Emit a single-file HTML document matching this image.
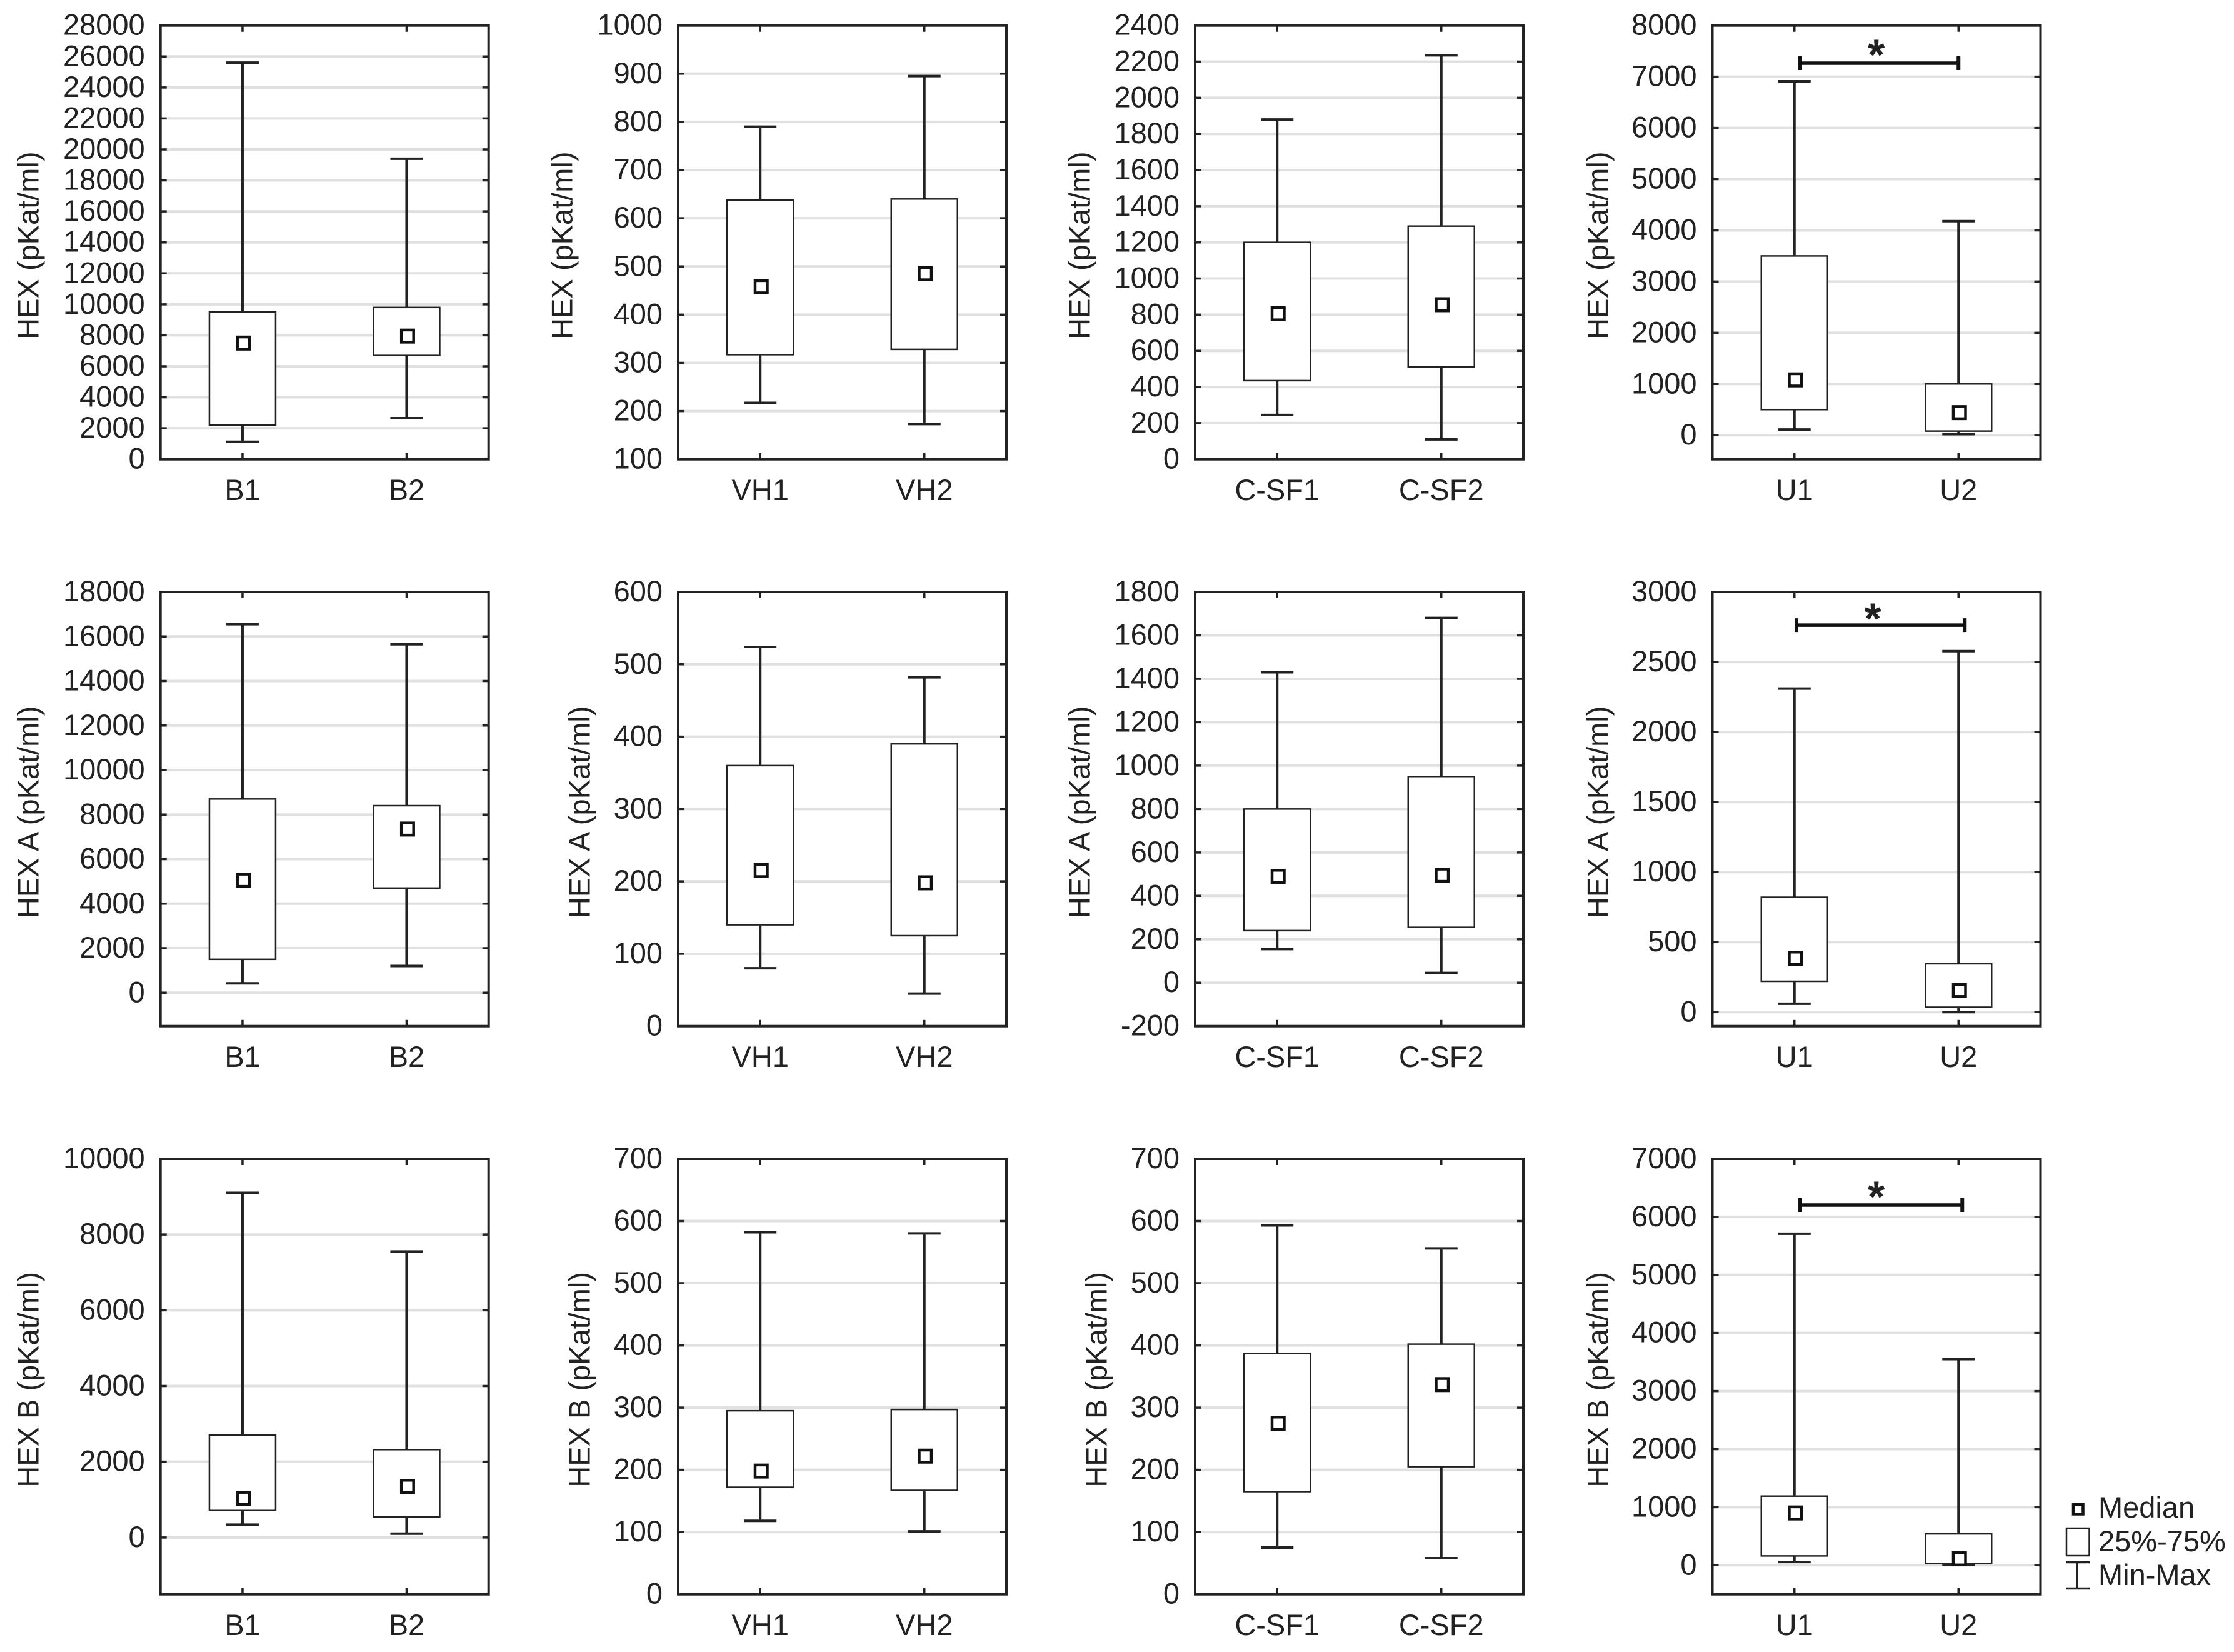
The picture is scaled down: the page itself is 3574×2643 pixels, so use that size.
<!DOCTYPE html>
<html lang="en">
<head>
<meta charset="utf-8">
<title>HEX, HEX A and HEX B box plots</title>
<style>
html,body{margin:0;padding:0;background:#fff;}
#figure{display:block;width:3574px;height:2643px;font-family:"Liberation Sans",Arial,sans-serif;}
text{fill:#222;font-size:47px;}
</style>
</head>
<body>
<svg id="figure" xmlns="http://www.w3.org/2000/svg" width="3574" height="2643" viewBox="0 0 3574 2643"></svg>
<script>
const categories = [['B1','B2'],['VH1','VH2'],['C-SF1','C-SF2'],['U1','U2']];
const yTitles = ['HEX (pKat/ml)','HEX A (pKat/ml)','HEX B (pKat/ml)'];
// panels in reading order: row 1 (4), row 2 (4), row 3 (4)
const axisMin = [0,100,0,-470, -1500,0,-200,-100, -1500,0,0,-500];
const axisMax = [28000,1000,2400,8000, 18000,600,1800,3000, 10000,700,700,7000];
const tickValues = [
  [0,2000,4000,6000,8000,10000,12000,14000,16000,18000,20000,22000,24000,26000,28000],
  [100,200,300,400,500,600,700,800,900,1000],
  [0,200,400,600,800,1000,1200,1400,1600,1800,2000,2200,2400],
  [0,1000,2000,3000,4000,5000,6000,7000,8000],
  [0,2000,4000,6000,8000,10000,12000,14000,16000,18000],
  [0,100,200,300,400,500,600],
  [-200,0,200,400,600,800,1000,1200,1400,1600,1800],
  [0,500,1000,1500,2000,2500,3000],
  [0,2000,4000,6000,8000,10000],
  [0,100,200,300,400,500,600,700],
  [0,100,200,300,400,500,600,700],
  [0,1000,2000,3000,4000,5000,6000,7000]
];
const maxValues = [[25600,19400],[790,895],[1880,2235],[6910,4180],[16550,15650],[524,482],[1430,1680],[2310,2577],[9100,7550],[582,580],[593,556],[5710,3550]];
const q3Values = [[9500,9800],[638,640],[1200,1290],[3500,1000],[8700,8400],[360,390],[800,950],[820,345],[2700,2320],[295,297],[387,402],[1190,540]];
const medianValues = [[7500,7950],[458,485],[805,855],[1080,440],[5050,7350],[215,198],[490,495],[385,155],[1030,1350],[198,222],[275,337],[900,110]];
const q1Values = [[2200,6700],[317,328],[435,510],[500,80],[1500,4700],[140,125],[240,255],[220,35],[711,540],[172,167],[165,205],[160,30]];
const minValues = [[1130,2650],[217,173],[245,110],[110,20],[420,1200],[80,45],[155,45],[60,0],[338,100],[118,101],[75,58],[55,10]];
// significance bracket level per panel (null = no bracket)
const significanceValues = [null,null,null,7264, null,null,null,2763, null,null,null,6203];
const legendLabels = ['Median','25%-75%','Min-Max'];

const SVGNS = 'http://www.w3.org/2000/svg';
const root = document.getElementById('figure');
const plotLeft = [256.7,1085,1912,2739.5];
const plotWidth = 525;
const rowTop = [40.7,947,1854];
const rowHeight = [694,694.7,696.7];
const titleX = [[45,899,1727,2556],[45,927,1727,2556],[45,927,1754,2556]];
const bracketLeftOffset = [9.25,3.25,9.25];
const bracketRightOffset = [0,10,6];
const starDx = [-5,-12.6,-8];
const starRise = [24.3,21.7,24.7];
const INK = '#222';

function make(tag, attrs, parent) {
  const el = document.createElementNS(SVGNS, tag);
  for (const k in attrs) el.setAttribute(k, attrs[k]);
  parent.appendChild(el);
  return el;
}

for (let p = 0; p < 12; p++) {
  const col = p % 4;
  const row = Math.floor(p / 4);
  const plotHeight = rowHeight[row];
  const L = plotLeft[col], R = L + plotWidth, T = rowTop[row], B = T + plotHeight;
  const yScale = v => B - (v - axisMin[p]) / (axisMax[p] - axisMin[p]) * plotHeight;
  const xScale = i => L + plotWidth * (i === 0 ? 0.25 : 0.75);

  const g = make('g', {}, root);
  
  

  const title = make('text', {transform: 'translate(' + titleX[row][col] + ' ' + (T + plotHeight / 2 + 5) + ') rotate(-90)', 'text-anchor': 'middle', 'dominant-baseline': 'central'}, g);
  
  
  title.textContent = yTitles[row];

  tickValues[p].forEach(v => {
    const y = yScale(v);
    if (v !== axisMin[p] && v !== axisMax[p]) {
      const grid = make('line', {x1: L, x2: R, y1: y, y2: y, stroke: '#e0e0e0', 'stroke-width': 4}, g);
      
      
    }
    const tl = make('path', {d: 'M' + L + ' ' + y + 'h10M' + R + ' ' + y + 'h-10', stroke: INK, 'stroke-width': 3.5, fill: 'none'}, g);
    
    
    const lab = make('text', {x: L - 25, y: y + 15, 'text-anchor': 'end'}, g);
    
    
    lab.textContent = String(v);
  });

  categories[col].forEach((cat, i) => {
    const x = xScale(i);
    const whisker = make('path', {
      d: 'M' + x + ' ' + yScale(minValues[p][i]) + 'V' + yScale(maxValues[p][i]) +
         'M' + (x - 26) + ' ' + yScale(maxValues[p][i]) + 'h52' +
         'M' + (x - 26) + ' ' + yScale(minValues[p][i]) + 'h52',
      stroke: INK, 'stroke-width': 4, fill: 'none'}, g);
    
    

    const box = make('rect', {x: x - 53, y: yScale(q3Values[p][i]), width: 106, height: yScale(q1Values[p][i]) - yScale(q3Values[p][i]), fill: '#fff', stroke: INK, 'stroke-width': 2.5}, g);
    
    

    const med = make('rect', {x: x + 1.5 - 9.75, y: yScale(medianValues[p][i]) - 9.75, width: 19.5, height: 19.5, fill: '#fff', stroke: '#111', 'stroke-width': 4.5}, g);
    
    

    const ticks = make('path', {d: 'M' + x + ' ' + T + 'v10M' + x + ' ' + B + 'v-10', stroke: INK, 'stroke-width': 3.5, fill: 'none'}, g);
    
    

    const xl = make('text', {x: x, y: B + 65.5, 'text-anchor': 'middle'}, g);
    
    
    xl.textContent = cat;
  });

  const frame = make('rect', {x: L, y: T, width: plotWidth, height: plotHeight, fill: 'none', stroke: INK, 'stroke-width': 4}, g);
  
  

  if (significanceValues[p] !== null) {
    const y = yScale(significanceValues[p]);
    const x1 = xScale(0) + bracketLeftOffset[row], x2 = xScale(1) + bracketRightOffset[row];
    const bracketBar = make('path', {d: 'M' + x1 + ' ' + y + 'H' + x2, stroke: '#111', 'stroke-width': 5.5, fill: 'none'}, g);
    
    
    const bracketEnds = make('path', {d: 'M' + x1 + ' ' + (y - 11) + 'v22M' + x2 + ' ' + (y - 11) + 'v22', stroke: '#111', 'stroke-width': 6, fill: 'none'}, g);
    
    
    const star = make('text', {x: (x1 + x2) / 2 + starDx[row], y: y - starRise[row] + 35, 'text-anchor': 'middle', 'font-weight': 'bold'}, g);
    star.style.fontSize = '70px';
    
    
    star.textContent = '*';
  }
}

const legend = make('g', {}, root);



const legendMedian = make('rect', {x: 3317, y: 2407, width: 15.5, height: 15.5, fill: '#fff', stroke: '#111', 'stroke-width': 4.5}, legend);



const legendBox = make('rect', {x: 3306, y: 2445, width: 36.5, height: 44, fill: '#fff', stroke: INK, 'stroke-width': 2.5}, legend);



const legendWhisker = make('path', {d: 'M3323 2499.5V2541.5M3305 2499.5h38M3305 2541.5h38', stroke: INK, 'stroke-width': 3.5, fill: 'none'}, legend);



legendLabels.forEach((label, i) => {
  const t = make('text', {x: 3357, y: 2428 + i * 54}, legend);
  
  
  t.textContent = label;
});
</script>
</body>
</html>
